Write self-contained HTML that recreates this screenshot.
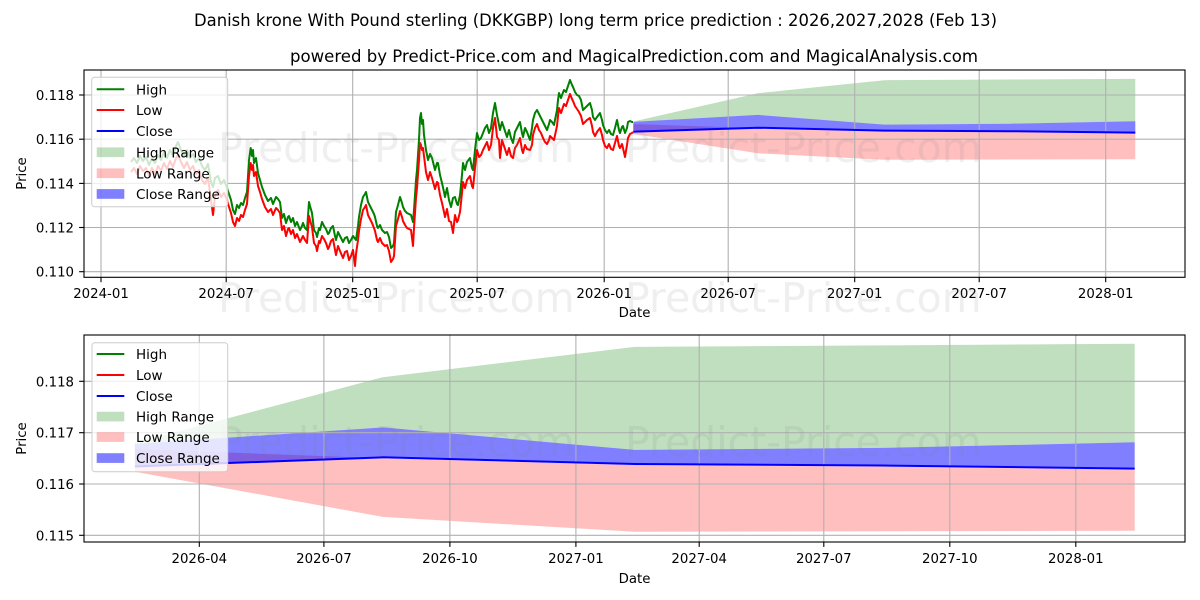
<!DOCTYPE html>
<html><head><meta charset="utf-8"><style>
html,body{margin:0;padding:0;background:#fff;}
svg{display:block;font-family:"DejaVu Sans","Liberation Sans",sans-serif;}
</style></head><body>
<svg width="1200" height="600" viewBox="0 0 1200 600" xmlns="http://www.w3.org/2000/svg">
<rect x="0" y="0" width="1200" height="600" fill="#fff"/>
<text x="194" y="26" font-size="16.6" fill="#000" textLength="803" lengthAdjust="spacingAndGlyphs">Danish krone With Pound sterling (DKKGBP) long term price prediction : 2026,2027,2028 (Feb 13)</text>
<text x="290" y="62" font-size="16.6" fill="#000" textLength="688" lengthAdjust="spacingAndGlyphs">powered by Predict-Price.com and MagicalPrediction.com and MagicalAnalysis.com</text>

<!-- TOP CHART -->
<defs>
<clipPath id="c1"><rect x="84" y="70" width="1101" height="207.3"/></clipPath>
<clipPath id="c2"><rect x="84" y="335" width="1101" height="207"/></clipPath>
</defs>
<g clip-path="url(#c1)">
<polygon fill="rgb(191,223,191)" points="633.3,121.5 757.8,93.2 884.3,80.2 1008.8,79.5 1135.3,78.9 1135.3,121.3 1008.8,123.7 884.3,124.6 757.8,114.9 633.3,121.9"/>
<polygon fill="rgba(255,0,0,0.25)" points="633.3,124.1 757.8,128.1 884.3,131 1008.8,131.7 1135.3,133.0 1135.3,159.3 1008.8,159.5 884.3,159.7 757.8,153.3 633.3,133.9"/>
<polygon fill="rgba(0,0,255,0.5)" points="633.3,121.9 757.8,114.9 884.3,124.6 1008.8,123.7 1135.3,121.3 1135.3,132.6 1008.8,131.2 884.3,130.6 757.8,127.7 633.3,131.7"/>
</g>
<g stroke="#b0b0b0" stroke-width="1.1">
<line x1="101" y1="70" x2="101" y2="277.3"/><line x1="226.2" y1="70" x2="226.2" y2="277.3"/><line x1="352.7" y1="70" x2="352.7" y2="277.3"/><line x1="477.2" y1="70" x2="477.2" y2="277.3"/><line x1="604.2" y1="70" x2="604.2" y2="277.3"/><line x1="728.2" y1="70" x2="728.2" y2="277.3"/><line x1="854.7" y1="70" x2="854.7" y2="277.3"/><line x1="979.2" y1="70" x2="979.2" y2="277.3"/><line x1="1105.7" y1="70" x2="1105.7" y2="277.3"/>
<line x1="84" y1="95" x2="1185" y2="95"/><line x1="84" y1="139.2" x2="1185" y2="139.2"/><line x1="84" y1="183.4" x2="1185" y2="183.4"/><line x1="84" y1="227.5" x2="1185" y2="227.5"/><line x1="84" y1="271.7" x2="1185" y2="271.7"/>
</g>
<g clip-path="url(#c1)" fill="none" stroke-width="2" stroke-linejoin="round">
<polyline stroke="#008000" points="131,162 134,158 137,163 140,156 143,161 146,157 149,165 152,158 155,163 158,155 161,160 164,152 167,158 170,150 173,156 176,146 178,142 181,150 184,156 187,150 190,158 193,154 196,162 199,158 202,166 205,170 208,164 211,182 213,187 215,178 218,176 221,184 224,180 227,188 229,194 231,200 233,210 235,214 237,205 239,208 241,203 243,205 245,198 247,192 249,160 250.7,148 252,156 253,150 254,163 256,158 258,173 260,180 262,187 265,195 268,201 271,198 273,204 276,197 278,199 280,202 282,218 284,214 286,223 288,217 289,216 291,222 293,218 295,226 297,222 300,230 302,226 303,223 305,228 307,230 309,202 310,206 312,213 314,230 316,233 317,237 319,228 320,230 322,222 324,226 326,229 328,234 329,233 331,228 333,226 335,236 336,240 338,232 340,236 343,242 345,238 347,237 349,243 351,240 353,236 356,240 358,226 359,217 361,205 363,197 365,194 366,192 368,202 370,206 372,210 374,214 375,217 377,226 378,228 380,225 382,230 385,233 387,232 389,237 391,248 393,246 394,243 396,212 398,205 400,197 402,203 403,207 405,211 407,213 409,214 411,215 413,222 414,210 416,180 417,170 419,140 420,118 421,113 422,124 423,120 424,135 426,150 428,160 430,154 432,158 435,170 437,163 438,163 440,175 442,183 444,192 445,197 447,188 449,200 451,207 453,198 455,197 457,204 458,205 460,195 462,175 463,163 465,170 467,162 470,158 472,168 473,170 475,150 477,133 479,140 481,138 483,133 485,128 487,125 489,133 491,128 493,113 495,103 497,115 499,125 500,130 502,122 504,128 507,137 509,130 511,138 513,143 515,132 517,128 520,122 522,133 523,137 525,128 527,132 530,140 532,128 533,120 535,113 537,110 539,114 541,118 543,122 545,126 547,130 549,124 550,120 552,122 554,125 557,110 558,100 559,93 561,98 562,95 564,90 566,92 568,86 570,80 572,85 573,87 575,92 577,95 579,96 581,100 583,110 585,108 587,106 590,103 592,110 593,117 595,120 597,117 600,113 602,120 603,125 605,130 607,133 609,130 611,134 613,135 615,128 617,120 619,130 620,133 622,127 623,126 625,133 627,128 628,122 630,121 632,122 633,122"/>
<polyline stroke="#ff0000" points="131,172 134,168 137,174 140,166 143,171 146,168 149,176 152,168 155,174 158,166 161,171 164,163 167,169 170,161 173,167 176,158 178,155 181,162 184,168 187,162 190,170 193,166 196,174 199,170 202,180 205,184 208,178 211,200 213,215 215,196 218,190 221,197 224,193 227,200 229,207 231,213 233,222 235,226 237,218 239,221 241,215 243,217 245,210 247,204 249,176 250.7,163 252,170 253,165 254,176 256,172 258,186 260,192 262,199 265,207 268,212 271,209 273,215 276,208 278,210 280,213 282,230 284,226 286,236 288,229 289,228 291,234 293,230 295,238 297,234 300,242 302,238 303,236 305,240 307,243 309,216 310,220 312,227 314,243 316,246 317,251 319,241 320,243 322,236 324,239 326,243 328,249 329,247 331,241 333,239 335,250 336,255 338,246 340,251 343,258 345,252 347,251 349,260 351,256 353,250 355,266 356,254 358,240 359,231 361,219 363,210 365,207 366,205 368,215 370,219 372,223 374,228 375,231 377,240 378,242 380,238 382,243 385,246 387,245 389,251 391,262 393,259 394,256 396,226 398,219 400,211 402,217 403,221 405,225 407,228 409,229 411,230 413,246 414,228 416,198 417,188 419,160 420,143 421,145 422,150 423,148 424,156 426,172 428,180 430,172 432,178 435,189 437,182 438,183 440,195 442,203 444,212 445,217 447,209 449,221 451,222 453,233 455,215 457,222 458,220 460,212 462,193 463,182 465,188 467,180 470,176 472,186 473,188 475,168 477,150 479,157 481,155 483,150 485,146 487,142 489,150 491,145 493,128 495,118 497,137 499,140 500,158 502,140 504,146 507,155 509,148 511,156 513,158 515,148 517,145 520,138 522,150 523,153 525,145 527,149 530,150 532,145 533,135 535,128 537,124 539,130 541,133 543,138 545,142 547,144 549,140 550,136 552,138 554,140 557,126 558,116 559,108 561,113 562,110 564,104 566,106 568,100 570,94 572,99 573,101 575,106 577,109 579,112 581,116 583,124 585,122 587,120 590,118 592,126 593,132 595,136 597,132 600,128 602,135 603,140 605,146 607,148 609,144 611,149 613,150 615,143 617,136 619,146 620,148 622,144 623,148 625,157 627,145 628,138 630,134 632,133 633,132"/>
<polyline stroke="#0000ff" points="633.3,131.7 757.8,127.7 884.3,130.6 1008.8,131.2 1135.3,132.6"/>
</g>
<rect x="84" y="70" width="1101" height="207.3" fill="none" stroke="#000" stroke-width="1.1"/>
<g stroke="#000" stroke-width="1.1">
<line x1="101" y1="277.3" x2="101" y2="282.2"/><line x1="226.2" y1="277.3" x2="226.2" y2="282.2"/><line x1="352.7" y1="277.3" x2="352.7" y2="282.2"/><line x1="477.2" y1="277.3" x2="477.2" y2="282.2"/><line x1="604.2" y1="277.3" x2="604.2" y2="282.2"/><line x1="728.2" y1="277.3" x2="728.2" y2="282.2"/><line x1="854.7" y1="277.3" x2="854.7" y2="282.2"/><line x1="979.2" y1="277.3" x2="979.2" y2="282.2"/><line x1="1105.7" y1="277.3" x2="1105.7" y2="282.2"/>
<line x1="79.1" y1="95" x2="84" y2="95"/><line x1="79.1" y1="139.2" x2="84" y2="139.2"/><line x1="79.1" y1="183.4" x2="84" y2="183.4"/><line x1="79.1" y1="227.5" x2="84" y2="227.5"/><line x1="79.1" y1="271.7" x2="84" y2="271.7"/>
</g>
<g font-size="13.3" fill="#000" text-anchor="middle">
<text x="101" y="298">2024-01</text><text x="226.2" y="298">2024-07</text><text x="352.7" y="298">2025-01</text><text x="477.2" y="298">2025-07</text><text x="604.2" y="298">2026-01</text><text x="728.2" y="298">2026-07</text><text x="854.7" y="298">2027-01</text><text x="979.2" y="298">2027-07</text><text x="1105.7" y="298">2028-01</text>
<text x="634.5" y="317">Date</text>
</g>
<g font-size="13.3" fill="#000" text-anchor="end">
<text x="74" y="100">0.118</text><text x="74" y="144.2">0.116</text><text x="74" y="188.4">0.114</text><text x="74" y="232.5">0.112</text><text x="74" y="276.7">0.110</text>
</g>
<text x="0" y="0" font-size="13.3" text-anchor="middle" transform="translate(26,173.5) rotate(-90)">Price</text>

<!-- top legend -->
<rect x="91.7" y="77.3" width="136" height="129.4" rx="3" fill="rgba(255,255,255,0.8)" stroke="#cccccc" stroke-width="1"/>
<g stroke-width="2">
<line x1="96.7" y1="89.3" x2="124.3" y2="89.3" stroke="#008000"/>
<line x1="96.7" y1="110" x2="124.3" y2="110" stroke="#ff0000"/>
<line x1="96.7" y1="131" x2="124.3" y2="131" stroke="#0000ff"/>
</g>
<rect x="96.7" y="147.4" width="27.6" height="9.7" fill="rgba(0,128,0,0.25)"/>
<rect x="96.7" y="168.4" width="27.6" height="9.7" fill="rgba(255,0,0,0.25)"/>
<rect x="96.7" y="189.1" width="27.6" height="9.7" fill="rgba(0,0,255,0.5)"/>
<g font-size="13.5" fill="#000">
<text x="136" y="94.3">High</text><text x="136" y="115">Low</text><text x="136" y="136">Close</text><text x="136" y="157.3">High Range</text><text x="136" y="178.3">Low Range</text><text x="136" y="199">Close Range</text>
</g>

<!-- BOTTOM CHART -->
<g clip-path="url(#c2)">
<polygon fill="rgb(191,223,191)" points="134.9,442.9 382.8,377.2 634.8,346.9 882.7,345.4 1134.7,343.8 1134.7,442.3 882.7,447.9 634.8,449.9 382.8,427.4 134.9,443.9"/>
<polygon fill="rgba(255,0,0,0.25)" points="134.9,449 382.8,458.3 634.8,465 882.7,466.5 1134.7,469.6 1134.7,530.8 882.7,531.3 634.8,531.8 382.8,516.9 134.9,471.7"/>
<polygon fill="rgba(0,0,255,0.5)" points="134.9,443.9 382.8,427.4 634.8,449.9 882.7,447.9 1134.7,442.3 1134.7,468.6 882.7,465.5 634.8,464 382.8,457.3 134.9,466.5"/>
</g>
<g stroke="#b0b0b0" stroke-width="1.1">
<line x1="199.3" y1="335" x2="199.3" y2="542"/><line x1="323.9" y1="335" x2="323.9" y2="542"/><line x1="449.9" y1="335" x2="449.9" y2="542"/><line x1="575.9" y1="335" x2="575.9" y2="542"/><line x1="699.2" y1="335" x2="699.2" y2="542"/><line x1="823.8" y1="335" x2="823.8" y2="542"/><line x1="949.8" y1="335" x2="949.8" y2="542"/><line x1="1075.8" y1="335" x2="1075.8" y2="542"/>
<line x1="84" y1="381.3" x2="1185" y2="381.3"/><line x1="84" y1="432.7" x2="1185" y2="432.7"/><line x1="84" y1="484" x2="1185" y2="484"/><line x1="84" y1="535.3" x2="1185" y2="535.3"/>
</g>
<polyline clip-path="url(#c2)" fill="none" stroke="#0000ff" stroke-width="2" points="134.9,466.5 382.8,457.3 634.8,464 882.7,465.5 1134.7,468.6"/>
<rect x="84" y="335" width="1101" height="207" fill="none" stroke="#000" stroke-width="1.1"/>
<g stroke="#000" stroke-width="1.1">
<line x1="199.3" y1="542" x2="199.3" y2="546.9"/><line x1="323.9" y1="542" x2="323.9" y2="546.9"/><line x1="449.9" y1="542" x2="449.9" y2="546.9"/><line x1="575.9" y1="542" x2="575.9" y2="546.9"/><line x1="699.2" y1="542" x2="699.2" y2="546.9"/><line x1="823.8" y1="542" x2="823.8" y2="546.9"/><line x1="949.8" y1="542" x2="949.8" y2="546.9"/><line x1="1075.8" y1="542" x2="1075.8" y2="546.9"/>
<line x1="79.1" y1="381.3" x2="84" y2="381.3"/><line x1="79.1" y1="432.7" x2="84" y2="432.7"/><line x1="79.1" y1="484" x2="84" y2="484"/><line x1="79.1" y1="535.3" x2="84" y2="535.3"/>
</g>
<g font-size="13.3" fill="#000" text-anchor="middle">
<text x="199.3" y="563">2026-04</text><text x="323.9" y="563">2026-07</text><text x="449.9" y="563">2026-10</text><text x="575.9" y="563">2027-01</text><text x="699.2" y="563">2027-04</text><text x="823.8" y="563">2027-07</text><text x="949.8" y="563">2027-10</text><text x="1075.8" y="563">2028-01</text>
<text x="634.5" y="583">Date</text>
</g>
<g font-size="13.3" fill="#000" text-anchor="end">
<text x="74" y="386.3">0.118</text><text x="74" y="437.7">0.117</text><text x="74" y="489">0.116</text><text x="74" y="540.3">0.115</text>
</g>
<text x="0" y="0" font-size="13.3" text-anchor="middle" transform="translate(26,438.5) rotate(-90)">Price</text>

<!-- watermarks -->
<g font-size="41" fill="#808080" fill-opacity="0.13">
<text x="218" y="162">Predict-Price.com</text>
<text x="625" y="162">Predict-Price.com</text>
<text x="218" y="312">Predict-Price.com</text>
<text x="625" y="312">Predict-Price.com</text>
<text x="218" y="456">Predict-Price.com</text>
<text x="625" y="456">Predict-Price.com</text>
</g>

<!-- bottom legend -->
<rect x="92" y="342.7" width="135.7" height="129" rx="3" fill="rgba(255,255,255,0.8)" stroke="#cccccc" stroke-width="1"/>
<g stroke-width="2">
<line x1="96.7" y1="354" x2="124.3" y2="354" stroke="#008000"/>
<line x1="96.7" y1="375" x2="124.3" y2="375" stroke="#ff0000"/>
<line x1="96.7" y1="396" x2="124.3" y2="396" stroke="#0000ff"/>
</g>
<rect x="96.7" y="411.7" width="27.6" height="9.7" fill="rgba(0,128,0,0.25)"/>
<rect x="96.7" y="432.2" width="27.6" height="9.7" fill="rgba(255,0,0,0.25)"/>
<rect x="96.7" y="453.2" width="27.6" height="9.7" fill="rgba(0,0,255,0.5)"/>
<g font-size="13.5" fill="#000">
<text x="136" y="359">High</text><text x="136" y="380">Low</text><text x="136" y="401">Close</text><text x="136" y="421.5">High Range</text><text x="136" y="442">Low Range</text><text x="136" y="463">Close Range</text>
</g>
</svg>
</body></html>
